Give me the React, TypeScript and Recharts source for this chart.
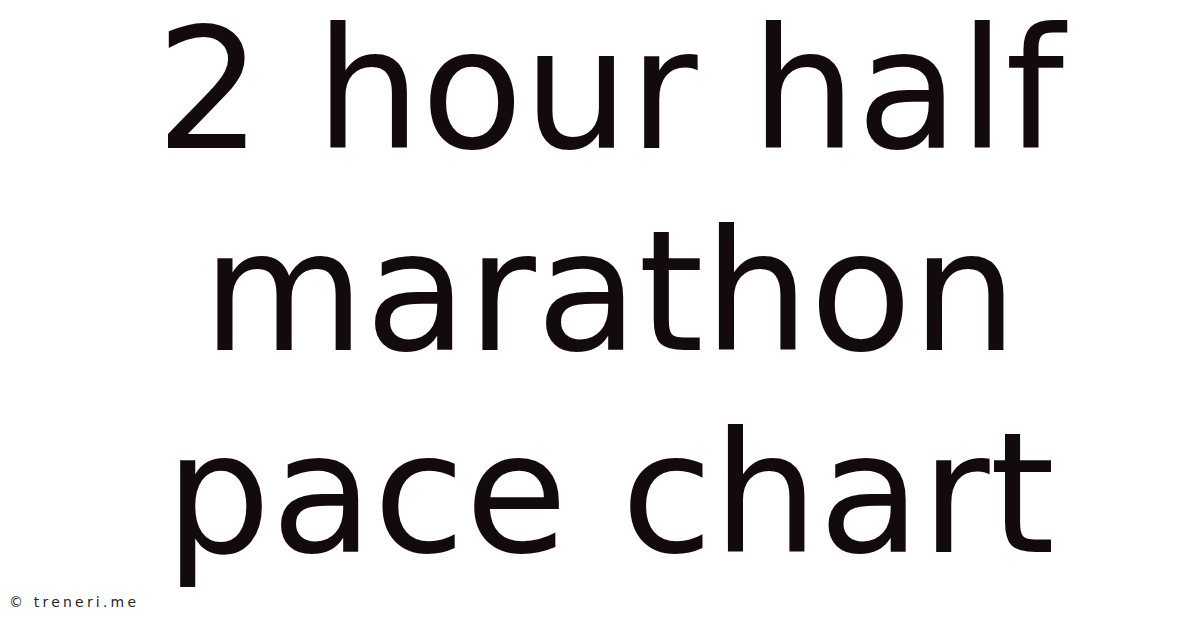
import { LineChart } from 'recharts';

// the picture carries no plotted data, only the title text and a credit line
const titleLines = ['2 hour half', 'marathon', 'pace chart'];
const titleBaselines = [148, 350, 552];
const credit = '© treneri.me';

const W = 1200;
const H = 628;

const App = () => {
  return (
    <div style={{ position: 'fixed', top: 0, left: 0, width: W, height: H, background: '#fff' }}>
      <LineChart width={W} height={H} data={[]} margin={{ top: 0, right: 0, bottom: 0, left: 0 }}>
        {titleLines.map((line, i) => (
          <text
            key={line}
            x={610}
            y={titleBaselines[i]}
            textAnchor="middle"
            fill="#130b0b"
            style={{ fontFamily: 'DejaVu Sans', fontSize: 167 }}
          >
            {line}
          </text>
        ))}
        <text
          x={9}
          y={607}
          fill="#262626"
          style={{ fontFamily: 'DejaVu Sans', fontSize: 14, letterSpacing: 3.2 }}
        >
          {credit}
        </text>
      </LineChart>
    </div>
  );
};

export default App;
